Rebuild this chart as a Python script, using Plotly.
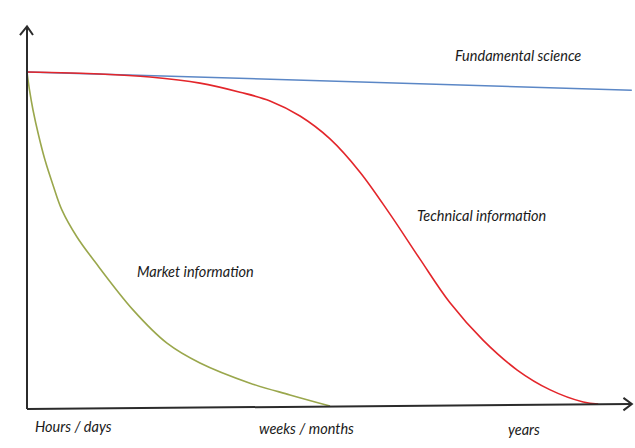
import plotly.graph_objects as go

# Schematic values (x: time, y: relative value of information)
blue_x = [0, 42.2, 100.8]
blue_y = [100, 97.8, 94.6]

red_x = [0, 12.17, 20.5, 28.83, 35.5, 40.5, 45.5, 50.5, 55.5, 60.5, 65.5, 70.5, 76.0, 81.7, 87.2, 92.7, 95.2]
red_y = [100, 99.4, 98.5, 96.7, 94.0, 91.4, 86.9, 80.1, 70.2, 57.7, 44.3, 31.3, 20.2, 11.3, 5.4, 1.8, 1.2]

green_x = [0, 0.42, 1.0, 1.92, 3.0, 4.33, 5.83, 8.33, 11.33, 17.67, 23.33, 28.83, 37.17, 43.83, 50.5]
green_y = [100, 94.6, 88.7, 81.25, 73.8, 66.4, 58.9, 50.9, 43.5, 29.2, 19.3, 13.4, 7.4, 3.9, 0.6]

series_labels = ["Fundamental science", "Technical information", "Market information"]
time_labels = ["Hours / days", "weeks / months", "years"]

fig = go.Figure()
fig.add_trace(go.Scatter(x=blue_x, y=blue_y, mode="lines",
                         line=dict(color="#5b87c6", width=1.5), hoverinfo="skip"))
fig.add_trace(go.Scatter(x=red_x, y=red_y, mode="lines", line_shape="spline",
                         line=dict(color="#e3262b", width=1.6), hoverinfo="skip"))
fig.add_trace(go.Scatter(x=green_x, y=green_y, mode="lines", line_shape="spline",
                         line=dict(color="#9aa74c", width=1.6), hoverinfo="skip"))

axis_line = dict(color="#2b2b2b", width=2)
shapes = [
    # vertical axis + chevron
    dict(type="path", path="M 0,-0.3 L 0,113.4", line=axis_line),
    dict(type="path", path="M -1.17,111.0 L 0,113.6 L 1.0,111.0", line=axis_line),
    # horizontal axis + chevron
    dict(type="path", path="M 0,-0.3 L 100.67,1.19", line=axis_line),
    dict(type="path", path="M 99.4,3.0 L 100.8,1.19 L 99.4,-0.7", line=axis_line),
]

font = dict(family="Lato, Carlito, sans-serif", size=14.5, color="#1a1a1a")
def lab(text, x, y):
    return dict(x=x, y=y, xref="x", yref="y", text="<i>" + text + "</i>",
                showarrow=False, font=font, xanchor="center", yanchor="middle")

annotations = [
    lab(series_labels[0], 81.8, 104.8),
    lab(series_labels[1], 75.7, 57.4),
    lab(series_labels[2], 28.1, 40.5),
    lab(time_labels[0], 7.8, -5.4),
    lab(time_labels[1], 46.5, -6.0),
    lab(time_labels[2], 82.8, -6.5),
]

fig.update_layout(
    width=635, height=448,
    margin=dict(l=0, r=0, t=0, b=0),
    paper_bgcolor="white", plot_bgcolor="white",
    showlegend=False,
    xaxis=dict(range=[-4.5, 101.33], visible=False, fixedrange=True),
    yaxis=dict(range=[-11.905, 121.43], visible=False, fixedrange=True),
    shapes=shapes, annotations=annotations,
)

fig.write_html("out.html")
